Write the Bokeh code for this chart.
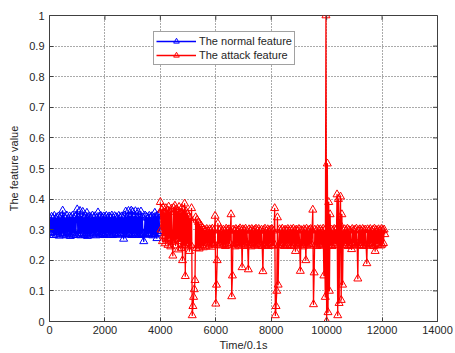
import numpy as np
from bokeh.plotting import figure
from bokeh.models import Range1d, FixedTicker, Legend
from bokeh.embed import file_html
from bokeh.resources import INLINE

# ---- data ----
blue_start, blue_step = 0, 25
normal_feature = [
    0.300,0.335,0.288,0.342,0.292,0.338,0.282,0.345,0.290,0.336,0.284,0.340,0.294,0.343,0.280,0.339,0.286,0.344,0.290,0.362,
    0.283,0.341,0.289,0.337,0.281,0.346,0.292,0.335,0.285,0.343,0.279,0.340,0.288,0.345,0.283,0.338,0.291,0.342,0.282,0.347,
    0.366,0.284,0.340,0.288,0.361,0.281,0.344,0.290,0.358,0.285,0.339,0.282,0.345,0.289,0.355,0.279,0.341,0.287,0.343,0.283,
    0.338,0.290,0.346,0.284,0.340,0.288,0.344,0.281,0.337,0.292,0.356,0.286,0.342,0.283,0.345,0.289,0.339,0.285,0.343,0.282,
    0.341,0.288,0.345,0.284,0.338,0.291,0.343,0.283,0.340,0.287,0.346,0.282,0.339,0.290,0.344,0.285,0.341,0.288,0.337,0.283,
    0.345,0.289,0.340,0.284,0.343,0.287,0.338,0.270,0.346,0.286,0.359,0.283,0.341,0.290,0.361,0.285,0.344,0.288,0.362,0.282,
    0.358,0.287,0.343,0.284,0.360,0.289,0.341,0.283,0.357,0.286,0.345,0.282,0.359,0.288,0.340,0.285,0.262,0.290,0.346,0.284,
    0.342,0.288,0.338,0.283,0.345,0.290,0.341,0.285,0.344,0.281,0.339,0.287,0.355,0.284,0.343,0.272,0.346,0.289,0.350,0.295,
]
red_start, red_step = 4000, 25
attack_feature = [
    0.390,0.300,0.365,0.262,0.372,0.280,0.355,0.255,0.370,0.268,0.362,0.250,0.375,0.272,0.358,0.245,0.368,0.260,0.215,0.372,
    0.265,0.378,0.248,0.366,0.270,0.360,0.235,0.374,0.262,0.355,0.240,0.370,0.200,0.365,0.250,0.385,0.148,0.360,0.255,0.352,
    0.245,0.345,0.230,0.338,0.250,0.370,0.020,0.050,0.080,0.105,0.135,0.340,0.240,0.332,0.250,0.325,0.238,0.318,0.245,0.312,
    0.250,0.305,0.242,0.300,0.255,0.298,0.245,0.302,0.258,0.296,0.248,0.301,0.252,0.299,0.244,0.303,0.256,0.297,0.250,0.345,
    0.058,0.120,0.200,0.320,0.255,0.298,0.248,0.302,0.258,0.296,0.250,0.300,0.253,0.297,0.246,0.303,0.255,0.299,0.249,0.301,
    0.257,0.296,0.350,0.082,0.150,0.300,0.252,0.298,0.245,0.302,0.256,0.297,0.250,0.300,0.247,0.304,0.254,0.298,0.177,0.301,
    0.252,0.299,0.246,0.303,0.257,0.296,0.249,0.170,0.301,0.254,0.298,0.245,0.302,0.256,0.297,0.250,0.300,0.247,0.303,0.253,
    0.298,0.248,0.302,0.257,0.296,0.251,0.300,0.246,0.164,0.299,0.255,0.303,0.249,0.297,0.252,0.301,0.246,0.298,0.256,0.300,
    0.250,0.302,0.247,0.297,0.255,0.370,0.020,0.050,0.100,0.340,0.120,0.250,0.301,0.248,0.298,0.256,0.303,0.251,0.297,0.246,
    0.300,0.254,0.298,0.249,0.302,0.257,0.296,0.250,0.301,0.246,0.299,0.255,0.303,0.248,0.297,0.230,0.300,0.252,0.298,0.247,
    0.302,0.256,0.165,0.299,0.250,0.297,0.245,0.301,0.254,0.298,0.200,0.303,0.249,0.296,0.255,0.300,0.247,0.302,0.253,0.298,
    0.365,0.056,0.160,0.300,0.251,0.297,0.246,0.302,0.255,0.299,0.249,0.301,0.253,0.296,0.247,0.303,0.150,0.298,0.080,1.000,
    0.000,0.516,0.030,0.390,0.100,0.350,0.250,0.300,0.246,0.298,0.255,0.302,0.249,0.299,0.254,0.415,0.020,0.400,0.060,0.320,
    0.408,0.070,0.350,0.120,0.297,0.248,0.301,0.255,0.298,0.250,0.303,0.246,0.299,0.254,0.297,0.249,0.236,0.302,0.256,0.298,
    0.251,0.300,0.247,0.303,0.254,0.140,0.298,0.249,0.301,0.256,0.297,0.250,0.302,0.246,0.299,0.255,0.300,0.248,0.190,0.301,
    0.253,0.298,0.247,0.302,0.256,0.297,0.250,0.300,0.246,0.303,0.230,0.299,0.254,0.298,0.249,0.301,0.255,0.297,0.248,0.302,
    0.251,0.299,0.256,0.300,0.285,
]
x_ticks = [0, 2000, 4000, 6000, 8000, 10000, 12000, 14000]
y_ticks = [0, 0.1, 0.2, 0.3, 0.4, 0.5, 0.6, 0.7, 0.8, 0.9, 1]
y_labels = ["0", "0.1", "0.2", "0.3", "0.4", "0.5", "0.6", "0.7", "0.8", "0.9", "1"]
series_names = ["The normal feature", "The attack feature"]
x_title = "Time/0.1s"
y_title = "The feature value"
x_max, y_max = 14000, 1

bx = blue_start + blue_step * np.arange(len(normal_feature))
rx = red_start + red_step * np.arange(len(attack_feature))

FONT = "Liberation Sans"
TXT = "#262626"
AX = "#404040"

p = figure(width=455, height=353, output_backend="svg", toolbar_location=None,
           x_range=Range1d(0, x_max), y_range=Range1d(0, y_max),
           min_border_left=49, min_border_right=18, min_border_top=15, min_border_bottom=32)
p.background_fill_color = "white"
p.border_fill_color = "white"
p.outline_line_color = AX
p.outline_line_width = 1

lb = p.line(bx, normal_feature, color="#0000ff", line_width=1.3, line_join="round")
sb = p.scatter(bx, normal_feature, marker="triangle", size=8, fill_color=None, line_color="#0000ff", line_width=1)
lr = p.line(rx, attack_feature, color="#ff0000", line_width=1.3, line_join="round")
sr = p.scatter(rx, attack_feature, marker="triangle", size=8, fill_color=None, line_color="#ff0000", line_width=1)

# inward tick marks on the right and top edges (clipped to the frame)
p.scatter([x_max] * len(y_ticks), y_ticks, marker="dash", size=9, line_color=AX, line_width=1)
p.scatter(x_ticks, [y_max] * len(x_ticks), marker="dash", angle=np.pi / 2, size=9, line_color=AX, line_width=1)

for ax in p.xaxis:
    ax.ticker = FixedTicker(ticks=x_ticks)
for ax in p.yaxis:
    ax.ticker = FixedTicker(ticks=y_ticks)
    ax.major_label_overrides = {t: l for t, l in zip(y_ticks, y_labels)}

for ax in list(p.xaxis) + list(p.yaxis):
    ax.major_tick_in = 4
    ax.major_tick_out = 0
    ax.minor_tick_line_color = None
    ax.axis_line_color = AX
    ax.major_tick_line_color = AX
    ax.major_label_text_font = FONT
    ax.major_label_text_font_size = "11px"
    ax.major_label_text_color = TXT
    ax.axis_label_text_font = FONT
    ax.axis_label_text_font_size = "11px"
    ax.axis_label_text_font_style = "normal"
    ax.axis_label_text_color = TXT
p.xaxis.axis_label = x_title
p.yaxis.axis_label = y_title
p.xaxis.major_label_standoff = 4
p.xaxis.axis_label_standoff = 2
p.yaxis.major_label_standoff = 5
p.yaxis.axis_label_standoff = 6

for g in (p.xgrid[0], p.ygrid[0]):
    g.grid_line_color = "#555555"
    g.grid_line_dash = "1 2"
    g.grid_line_width = 1
p.xgrid[0].ticker = FixedTicker(ticks=x_ticks)
p.ygrid[0].ticker = FixedTicker(ticks=y_ticks)

legend = Legend(items=[(series_names[0], [lb, sb]), (series_names[1], [lr, sr])],
                location=(104, 256))
legend.label_text_font = FONT
legend.label_text_font_size = "11px"
legend.label_text_color = TXT
legend.label_height = 14
legend.glyph_height = 14
legend.glyph_width = 40
legend.label_standoff = 3
legend.padding = 2
legend.spacing = 0
legend.margin = 0
legend.border_line_color = "#444444"
legend.border_line_width = 1
legend.background_fill_alpha = 1
p.add_layout(legend, "center")

open("out.html", "w").write(file_html(p, INLINE))
